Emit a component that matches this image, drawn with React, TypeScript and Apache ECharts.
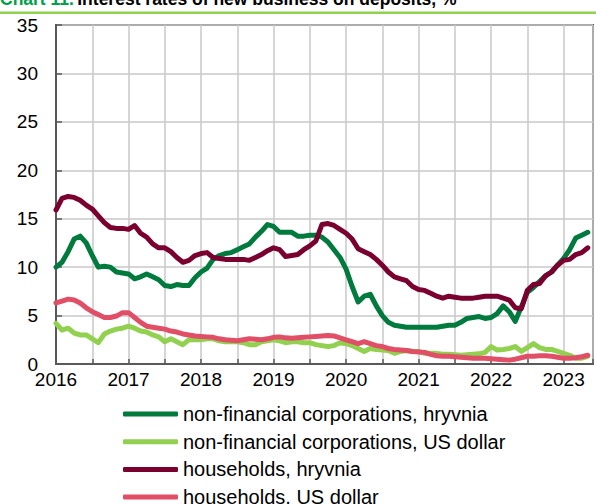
import React, { useEffect, useRef } from "react";
import * as echarts from "echarts";

const seriesNames = [
  "non-financial corporations, hryvnia",
  "non-financial corporations, US dollar",
  "households, hryvnia",
  "households, US dollar",
];

const startYear = 2016;
const yearLabels = [2016, 2017, 2018, 2019, 2020, 2021, 2022, 2023];

// Monthly values, Jan 2016 – May 2023
const nfcUah = [
  10.0, 10.5, 11.6, 12.9, 13.2, 12.5, 11.2, 10.0, 10.1, 10.0, 9.5, 9.4,
  9.3, 8.8, 9.0, 9.3, 9.0, 8.7, 8.1, 8.0, 8.2, 8.1, 8.1, 8.9,
  9.5, 9.9, 10.8, 11.2, 11.4, 11.5, 11.8, 12.1, 12.4, 13.1, 13.7, 14.4,
  14.2, 13.6, 13.6, 13.6, 13.2, 13.2, 13.3, 13.3, 13.1, 12.6, 11.8, 11.0,
  9.8, 8.0, 6.4, 7.0, 7.2, 6.0, 5.0, 4.3, 4.0, 3.9, 3.8, 3.8,
  3.8, 3.8, 3.8, 3.8, 3.9, 4.0, 4.0, 4.3, 4.7, 4.8, 4.9, 4.7,
  4.8, 5.2, 6.0, 5.4, 4.4, 5.9, 7.4, 7.9, 8.5, 9.1, 9.5, 10.2,
  10.9, 11.8, 13.0, 13.3, 13.6,
];

const nfcUsd = [
  4.2, 3.5, 3.7, 3.2, 3.0, 3.0, 2.6, 2.2, 3.1, 3.4, 3.6, 3.7,
  3.9, 3.7, 3.4, 3.3, 3.0, 2.8, 2.3, 2.6, 2.3, 2.0, 2.5, 2.5,
  2.5, 2.6, 2.6, 2.4, 2.3, 2.3, 2.3, 2.2, 2.0, 2.0, 2.3, 2.4,
  2.5, 2.4, 2.2, 2.3, 2.3, 2.2, 2.2, 2.0, 1.9, 1.8, 1.9, 2.2,
  2.1, 1.9, 1.6, 1.3, 1.6, 1.5, 1.45, 1.4, 1.1, 1.3, 1.4, 1.3,
  1.3, 1.1, 1.1, 1.1, 1.0, 1.0, 0.95, 0.9, 0.95, 1.0, 1.05, 1.2,
  1.8, 1.45, 1.5, 1.6, 1.8, 1.3, 1.7, 2.1, 1.7, 1.5, 1.5, 1.3,
  1.1, 0.9, 0.6, 0.6, 0.8,
];

const hhUah = [
  15.9, 17.1, 17.3, 17.2, 16.9, 16.4, 16.0, 15.3, 14.6, 14.1, 14.0, 14.0,
  13.9, 14.3, 13.5, 13.1, 12.4, 12.0, 12.0, 11.6, 11.0, 10.5, 10.7, 11.2,
  11.4, 11.5, 11.0, 10.9, 10.8, 10.8, 10.8, 10.8, 10.7, 11.0, 11.3, 11.7,
  12.0, 11.8, 11.1, 11.2, 11.3, 11.8, 12.2, 12.7, 14.4, 14.5, 14.3, 13.9,
  13.5, 12.9, 11.9, 11.6, 11.3, 10.8, 10.2, 9.5, 9.0, 8.8, 8.6, 8.0,
  7.7, 7.6, 7.3, 7.0, 6.8, 7.0, 6.9, 6.8, 6.8, 6.8, 6.9, 7.0,
  7.0, 7.0, 6.8, 6.6, 5.8, 5.7, 7.6, 8.2, 8.3, 9.1, 9.5, 10.2,
  10.7, 10.8, 11.3, 11.5, 12.0,
];

const hhUsd = [
  6.3, 6.5, 6.7, 6.6, 6.3, 5.8, 5.4, 5.1, 4.8, 4.8, 4.95, 5.3,
  5.3, 4.8, 4.3, 3.9, 3.8, 3.7, 3.6, 3.4, 3.3, 3.1, 3.0, 2.9,
  2.85, 2.8, 2.75, 2.6, 2.5, 2.45, 2.4, 2.5, 2.6, 2.55, 2.5, 2.6,
  2.75, 2.8, 2.7, 2.65, 2.7, 2.75, 2.8, 2.85, 2.9, 2.95, 2.9, 2.7,
  2.5, 2.3, 2.1, 2.3, 2.1, 1.9, 1.8, 1.6, 1.5, 1.45, 1.4, 1.3,
  1.25, 1.2, 1.0, 0.85, 0.8, 0.8, 0.75, 0.7, 0.65, 0.6, 0.6, 0.6,
  0.55, 0.5, 0.45, 0.4, 0.5, 0.65, 0.8, 0.8, 0.85, 0.85, 0.8, 0.7,
  0.6, 0.6, 0.65, 0.75, 0.9,
];

const yTicks = [0, 5, 10, 15, 20, 25, 30, 35];

const colors = ["#007a3d", "#92d050", "#7a0030", "#e04f66"];
const FONT = "'Liberation Sans', Arial, sans-serif";

export default function App() {
  const ref = useRef<HTMLDivElement>(null);

  useEffect(() => {
    if (!ref.current) return;
    const chart = echarts.init(ref.current, null, { renderer: "svg" });
    const allSeries = [nfcUah, nfcUsd, hhUah, hhUsd];
    const toPairs = (arr: number[]) => arr.map((v, i) => [startYear + i / 12, v]);

    const option = {
      animation: false,
      color: colors,
      grid: {
        left: 56,
        right: -2,
        top: 25,
        bottom: 140,
        show: true,
        borderColor: "#595959",
        borderWidth: 2,
        backgroundColor: "transparent",
      },
      graphic: [
        {
          type: "text",
          x: 0,
          y: -1,
          style: {
            text: "{a|Chart 11.} {b|Interest rates of new business on deposits, %}",
            verticalAlign: "middle",
            rich: {
              a: { fill: "#00a04b", fontSize: 17.5, fontWeight: "bold", fontFamily: FONT },
              b: { fill: "#000", fontSize: 17.5, fontWeight: "bold", fontFamily: FONT },
            },
          },
        },
        {
          type: "line",
          shape: { x1: 0, y1: 12.8, x2: 596, y2: 12.8 },
          style: { stroke: "#92d050", lineWidth: 2.5 },
        },
      ],
      legend: {
        orient: "vertical",
        left: 123,
        top: 404,
        height: 140,
        padding: 0,
        itemWidth: 55,
        itemHeight: 5,
        itemGap: 7.7,
        itemTextGap: 5,
        icon: "roundRect",
        data: seriesNames,
        textStyle: { fontSize: 20, color: "#000", lineHeight: 20, fontFamily: FONT },
      },
      xAxis: {
        type: "value",
        min: startYear,
        max: 2023.405,
        interval: 0.5,
        axisLine: { show: true, onZero: false, lineStyle: { color: "#595959", width: 2 } },
        axisTick: { show: true, inside: true, length: 5, lineStyle: { color: "#595959", width: 1.5 } },
        splitLine: { show: true, lineStyle: { color: "#c8c8c8", width: 1.5 } },
        axisLabel: {
          fontSize: 19,
          color: "#000",
          margin: 6,
          fontFamily: FONT,
          formatter: (v: number) => (yearLabels.indexOf(v) >= 0 ? String(v) : ""),
        },
      },
      yAxis: {
        type: "value",
        min: yTicks[0],
        max: yTicks[yTicks.length - 1],
        interval: 5,
        axisLine: { show: true, lineStyle: { color: "#595959", width: 2 } },
        axisTick: { show: true, inside: true, length: 6, lineStyle: { color: "#595959", width: 1.5 } },
        splitLine: { show: true, lineStyle: { color: "#c8c8c8", width: 1.5 } },
        axisLabel: { fontSize: 19, color: "#000", margin: 18, fontFamily: FONT },
      },
      series: allSeries.map((arr, i) => ({
        name: seriesNames[i],
        type: "line",
        data: toPairs(arr),
        symbol: "none",
        lineStyle: { width: 5, color: colors[i], join: "round", cap: "round" },
        itemStyle: { color: colors[i] },
      })),
    };

    chart.setOption(option as any);
    return () => chart.dispose();
  }, []);

  return (
    <div
      ref={ref}
      style={{ position: "absolute", left: 0, top: 0, width: 596, height: 504 }}
    />
  );
}
